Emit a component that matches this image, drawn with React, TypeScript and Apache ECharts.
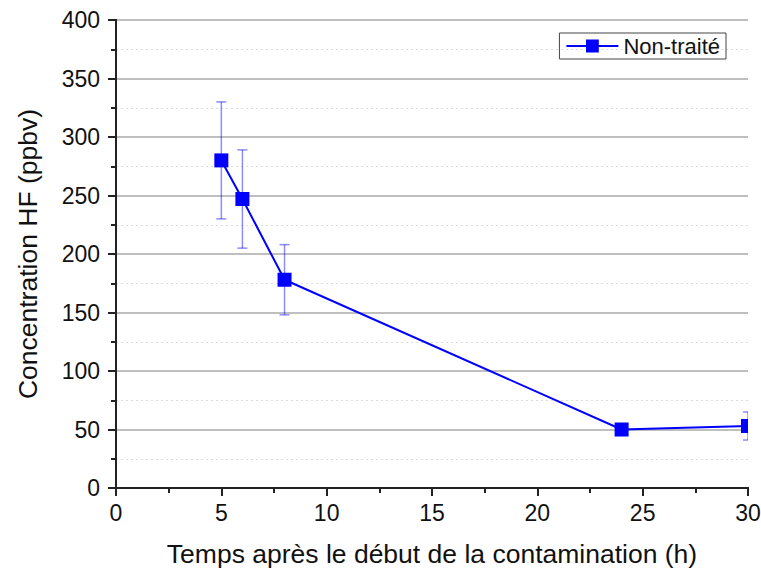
import React, { useEffect, useRef } from "react";
import * as echarts from "echarts";

const timeHours = [5, 6, 8, 24, 30];
const concentration = [280, 247, 178, 50, 53];
const errors = [50, 42, 30, 4, 12];
const seriesName = "Non-traité";
const xTitle = "Temps après le début de la contamination (h)";
const yTitle = "Concentration HF (ppbv)";

export default function App() {
  const ref = useRef<HTMLDivElement>(null);
  useEffect(() => {
    if (!ref.current) return;
    const chart = echarts.init(ref.current, null, { renderer: "svg" });
    const font = "Liberation Sans, Arial, sans-serif";
    const lastIdx = concentration.length - 1;
    const lineData = timeHours.map((t, i) =>
      i === lastIdx ? { value: [t, concentration[i]], symbol: "none" } : { value: [t, concentration[i]] }
    );
    const errData = timeHours.map((t, i) => [t, concentration[i], errors[i]]);
    const axisLine = { show: true, lineStyle: { color: "#222", width: 2 } };
    chart.setOption({
      animation: false,
      grid: { left: 116, top: 20, right: 13, bottom: 84, containLabel: false, outerBoundsMode: "none" },
      legend: {
        data: [seriesName],
        right: 35,
        top: 33,
        orient: "horizontal",
        itemWidth: 52,
        itemHeight: 16,
        itemGap: 7,
        padding: [2, 6, 2, 6],
        borderColor: "#444",
        borderWidth: 1,
        borderRadius: 0,
        textStyle: { fontFamily: font, fontSize: 22, color: "#111" },
      },
      xAxis: [
        {
          type: "value",
          min: 0,
          max: 30,
          interval: 5,
          name: xTitle,
          nameLocation: "middle",
          nameGap: 52,
          nameTextStyle: { fontFamily: font, fontSize: 26.5, color: "#111" },
          axisLine,
          axisTick: { show: true, inside: false, length: 8, lineStyle: { color: "#222", width: 2 } },
          minorTick: { show: true, splitNumber: 2, length: 5, lineStyle: { color: "#222", width: 2 } },
          axisLabel: { fontFamily: font, fontSize: 23, color: "#111", margin: 13 },
          splitLine: { show: false },
        },
        {
          type: "value",
          position: "top",
          min: 0,
          max: 30,
          interval: 5,
          axisLine,
          axisTick: { show: true, inside: true, length: 8, lineStyle: { color: "#222", width: 2 } },
          minorTick: { show: true, splitNumber: 2, length: 5, lineStyle: { color: "#222", width: 2 } },
          axisLabel: { show: false },
          splitLine: { show: false },
        },
      ],
      yAxis: [
        {
          type: "value",
          min: 0,
          max: 400,
          interval: 50,
          name: yTitle,
          nameLocation: "middle",
          nameGap: 75,
          nameTextStyle: { fontFamily: font, fontSize: 26.5, color: "#111" },
          axisLine,
          axisTick: { show: true, inside: false, length: 8, lineStyle: { color: "#222", width: 2 } },
          minorTick: { show: true, splitNumber: 2, length: 5, lineStyle: { color: "#222", width: 2 } },
          axisLabel: { fontFamily: font, fontSize: 23, color: "#111", margin: 16 },
          splitLine: { show: true, lineStyle: { color: "#aaa", width: 1.5 } },
          minorSplitLine: { show: true, lineStyle: { color: "#ddd", width: 1, type: [2, 3] } },
        },
        {
          type: "value",
          position: "right",
          min: 0,
          max: 400,
          interval: 50,
          axisLine,
          axisTick: { show: true, inside: true, length: 8, lineStyle: { color: "#222", width: 2 } },
          minorTick: { show: true, splitNumber: 2, length: 5, lineStyle: { color: "#222", width: 2 } },
          axisLabel: { show: false },
          splitLine: { show: false },
        },
      ],
      series: [
        {
          type: "custom",
          name: "errors",
          xAxisIndex: 0,
          yAxisIndex: 0,
          clip: true,
          z: 1,
          data: errData,
          renderItem: (params: any, api: any) => {
            const x = api.value(0);
            const y = api.value(1);
            const e = api.value(2);
            const hi = api.coord([x, y + e]);
            const lo = api.coord([x, y - e]);
            const cap = 5;
            const style = { stroke: "rgba(0,0,255,0.45)", lineWidth: 1.5 };
            return {
              type: "group",
              children: [
                { type: "line", shape: { x1: hi[0], y1: hi[1], x2: lo[0], y2: lo[1] }, style },
                { type: "line", shape: { x1: hi[0] - cap, y1: hi[1], x2: hi[0] + cap, y2: hi[1] }, style },
                { type: "line", shape: { x1: lo[0] - cap, y1: lo[1], x2: lo[0] + cap, y2: lo[1] }, style },
              ],
            };
          },
        },
        {
          type: "line",
          name: seriesName,
          xAxisIndex: 0,
          yAxisIndex: 0,
          z: 3,
          data: lineData,
          symbol: "rect",
          symbolSize: 14,
          lineStyle: { color: "#0000ff", width: 2 },
          itemStyle: { color: "#0000ff" },
        },
        {
          type: "custom",
          name: "clippedMarker",
          xAxisIndex: 0,
          yAxisIndex: 0,
          clip: true,
          z: 4,
          data: [[timeHours[lastIdx], concentration[lastIdx]]],
          renderItem: (params: any, api: any) => {
            const p = api.coord([api.value(0), api.value(1)]);
            return {
              type: "rect",
              shape: { x: p[0] - 7, y: p[1] - 7, width: 14, height: 14 },
              style: { fill: "#0000ff" },
            };
          },
        },
      ],
    });
    return () => chart.dispose();
  }, []);
  return <div ref={ref} style={{ width: 761, height: 572, position: "absolute", left: 0, top: 0 }} />;
}
